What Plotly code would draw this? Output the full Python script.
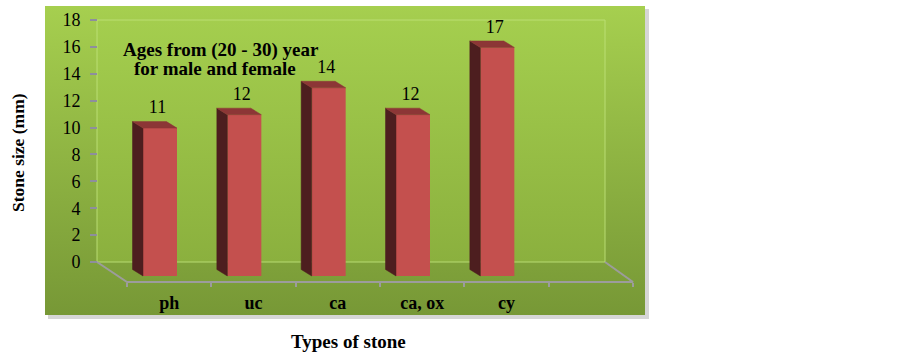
import plotly.graph_objects as go

# ---------------- data ----------------
categories = ["ph", "uc", "ca", "ca, ox", "cy"]
stone_size = [11, 12, 14, 12, 17]
y_tick_values = [0, 2, 4, 6, 8, 10, 12, 14, 16, 18]
x_title = "Types of stone"
y_title = "Stone size (mm)"
note_lines = ["Ages from (20 - 30) year", "for male and female"]

# ---------------- geometry / style ----------------
W, H = 903, 353
FONT = "Liberation Serif, Times New Roman, serif"

AX_L, AX_R, AX_Y = 127, 633, 282          # front floor edge (px)
WALL_L, WALL_R, WALL_T, WALL_B = 97, 605, 20, 262
BAR_BASE = 276
N_SLOTS = 6
PX_X = (AX_R - AX_L) / N_SLOTS
PX_Y = (WALL_B - WALL_T) / 18.0

x2_range = [-0.5 - AX_L / PX_X, -0.5 + (W - AX_L) / PX_X]
y2_range = [-(H - BAR_BASE) / PX_Y, BAR_BASE / PX_Y]
y3_range = [-(H - WALL_B) / PX_Y, WALL_B / PX_Y]

BAR_OFF = (143 - AX_L) / PX_X - 0.5
BAR_W = 34 / PX_X
DX = -10.5 / PX_X
DY = 6.5 / PX_Y

FRONT = "#c4504e"
SIDE = "#4d1e1f"
TOP = "#8c3636"


def rect(x0, y0, x1, y1):
    return [x0, x1, x1, x0, x0], [y0, y0, y1, y1, y0]


fig = go.Figure()

# ---- decorative background (pixel axes x / y) ----
sx, sy = rect(48, 9, 649, 319)
fig.add_trace(go.Scatter(x=sx, y=sy, fill="toself", fillcolor="rgba(0,0,0,0.16)",
                         line=dict(width=0), mode="lines", hoverinfo="skip", showlegend=False))
px_, py_ = rect(45, 6, 645, 315)
fig.add_trace(go.Scatter(x=px_, y=py_, fill="toself", mode="lines", line=dict(width=0),
                         fillgradient=dict(type="vertical", start=6, stop=315,
                                           colorscale=[[0, "#a6cf4f"], [1, "#779836"]]),
                         hoverinfo="skip", showlegend=False))
wx, wy = rect(WALL_L, WALL_T, WALL_R, WALL_B)
fig.add_trace(go.Scatter(x=wx, y=wy, fill="toself", mode="lines",
                         line=dict(width=1, color="rgba(190,225,120,0.9)"),
                         fillgradient=dict(type="vertical", start=WALL_T, stop=WALL_B,
                                           colorscale=[[0, "#a4ce4e"], [1, "#8bb03e"]]),
                         hoverinfo="skip", showlegend=False))
fig.add_trace(go.Scatter(x=[WALL_L, AX_L, AX_R, WALL_R], y=[WALL_B, AX_Y, AX_Y, WALL_B],
                         mode="lines", line=dict(width=2, color="#9c9c9c"),
                         hoverinfo="skip", showlegend=False))

# dummy trace so the back-wall value axis exists
fig.add_trace(go.Scatter(x=[None], y=[None], xaxis="x", yaxis="y3", mode="markers",
                         hoverinfo="skip", showlegend=False))

# ---- data (x2 / y2) ----
idx = list(range(len(categories)))

fig.add_trace(go.Bar(x=idx, y=stone_size, base=0, offset=BAR_OFF, width=BAR_W,
                     marker=dict(color=FRONT, line=dict(width=0)),
                     xaxis="x2", yaxis="y2", hoverinfo="skip", showlegend=False))

side_x, side_y, top_x, top_y = [], [], [], []
for i, v in zip(idx, stone_size):
    L = i + BAR_OFF
    R = L + BAR_W
    side_x += [L, L, L + DX, L + DX, L, None]
    side_y += [0, v, v + DY, DY, 0, None]
    top_x += [L, R, R + DX, L + DX, L, None]
    top_y += [v, v, v + DY, v + DY, v, None]

fig.add_trace(go.Scatter(x=side_x, y=side_y, fill="toself", fillcolor=SIDE, mode="lines",
                         line=dict(width=0.5, color=SIDE), xaxis="x2", yaxis="y2",
                         hoverinfo="skip", showlegend=False))
fig.add_trace(go.Scatter(x=top_x, y=top_y, fill="toself", fillcolor=TOP, mode="lines",
                         line=dict(width=0.5, color=TOP), xaxis="x2", yaxis="y2",
                         hoverinfo="skip", showlegend=False))

fig.add_trace(go.Scatter(x=[i + BAR_OFF + BAR_W / 2 - 0.03 for i in idx],
                         y=[v + DY + 0.94 for v in stone_size],
                         text=[str(v) for v in stone_size], mode="text",
                         textposition="middle center",
                         textfont=dict(family=FONT, size=18, color="black"),
                         xaxis="x2", yaxis="y2", hoverinfo="skip", showlegend=False))

# ---------------- layout ----------------
hidden = dict(visible=False, showgrid=False, zeroline=False, fixedrange=True)
fig.update_layout(
    width=W, height=H,
    margin=dict(l=0, r=0, t=0, b=0),
    paper_bgcolor="white", plot_bgcolor="rgba(0,0,0,0)",
    showlegend=False,
    xaxis=dict(range=[0, W], domain=[0, 1], **hidden),
    yaxis=dict(range=[H, 0], domain=[0, 1], **hidden),
    xaxis2=dict(overlaying="x", anchor="free", position=(H - AX_Y) / H,
                range=x2_range, showgrid=False, zeroline=False, showline=False,
                tickmode="array", tickvals=idx, ticktext=categories,
                ticks="", ticklabelstandoff=8,
                tickfont=dict(family=FONT, size=18, color="black", weight="bold"),
                minor=dict(tickmode="array", tickvals=[k - 0.5 for k in range(N_SLOTS + 1)],
                           ticks="outside", ticklen=4, tickwidth=2, tickcolor="#9c9c9c",
                           showgrid=False),
                fixedrange=True),
    yaxis2=dict(overlaying="y", anchor="x2", range=y2_range, **hidden),
    yaxis3=dict(overlaying="y", anchor="free", position=WALL_L / W, side="left",
                range=y3_range, tickmode="array", tickvals=y_tick_values,
                ticks="outside", ticklen=7, tickwidth=2, tickcolor="#8e8e9e",
                ticklabelstandoff=6,
                tickfont=dict(family=FONT, size=18, color="black"),
                showgrid=False, zeroline=False, showline=False, fixedrange=True),
    annotations=[
        dict(x=221, y=50, xref="x", yref="y", text="<b>%s</b>" % note_lines[0],
             showarrow=False, font=dict(family=FONT, size=19, color="black"),
             xanchor="center", yanchor="middle"),
        dict(x=215, y=68, xref="x", yref="y", text="<b>%s</b>" % note_lines[1],
             showarrow=False, font=dict(family=FONT, size=19, color="black"),
             xanchor="center", yanchor="middle"),
        dict(x=348, y=341, xref="x", yref="y", text="<b>%s</b>" % x_title,
             showarrow=False, font=dict(family=FONT, size=19, color="black"),
             xanchor="center", yanchor="middle"),
        dict(x=18, y=153, xref="x", yref="y", text="<b>%s</b>" % y_title,
             showarrow=False, textangle=-90, font=dict(family=FONT, size=17.5, color="black"),
             xanchor="center", yanchor="middle"),
    ],
)

fig.write_html("out.html", config={"displayModeBar": False},
               post_script="document.body.style.margin='0';document.body.style.overflow='hidden';")
